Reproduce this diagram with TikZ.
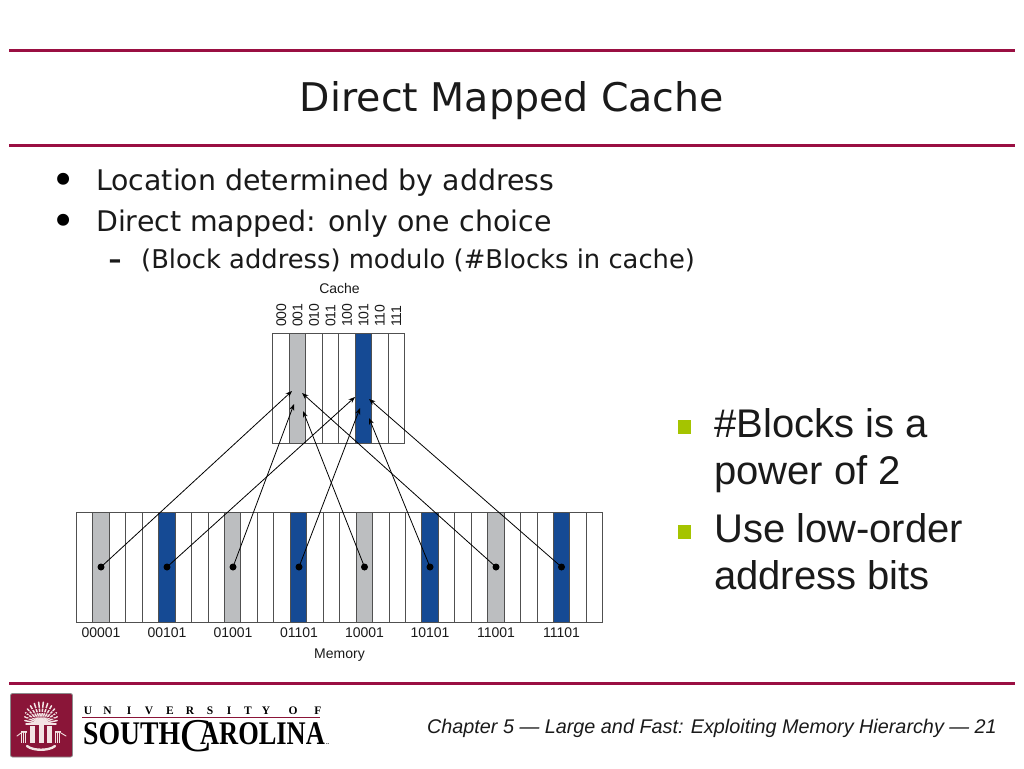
\documentclass[tikz,border=0pt]{standalone}
\usepackage{fontspec}
\setmainfont{Liberation Sans}
\newfontfamily\titlefont{DejaVu Sans}
\newfontfamily\logofont{Liberation Serif}
\usetikzlibrary{arrows.meta}
\definecolor{rulered}{HTML}{9A0F42}
\definecolor{logored}{HTML}{8A1538}
\definecolor{cellblue}{HTML}{154A94}
\definecolor{cellgray}{HTML}{BCBEC0}
\definecolor{cellline}{HTML}{505050}
\definecolor{bulletgreen}{HTML}{A5C400}
\definecolor{textdark}{HTML}{1A1A1A}
\definecolor{logowhite}{HTML}{F3E4E4}
\tikzset{
  hrule/.style={draw=rulered,line width=3pt},
  cell/.style={draw=cellline,line width=1pt,fill=white,minimum width=16.45pt,inner sep=0pt,outer sep=0pt},
  memcell/.style={cell,minimum height=110pt},
  cachecell/.style={cell,minimum height=110pt},
  hot/.style={fill=cellgray},
  hotblue/.style={fill=cellblue},
  dot/.style={circle,fill=black,inner sep=0pt,minimum size=7pt},
  conn/.style={draw=black,line width=.8pt,-{Stealth[length=6.5pt,width=5pt]},shorten <=-2pt},
  titletext/.style={font=\titlefont\fontsize{39.5}{40}\selectfont,text=textdark,anchor=base,inner sep=0pt},
  bodytext/.style={font=\titlefont\fontsize{28.4}{30}\selectfont,text=textdark,anchor=base west,inner sep=0pt},
  bullettext/.style={font=\titlefont\fontsize{41}{41}\selectfont,text=black,anchor=base,inner sep=0pt},
  subtext/.style={font=\titlefont\fontsize{25.8}{26}\selectfont,text=textdark,anchor=base west,inner sep=0pt},
  sidetext/.style={font=\fontsize{40}{40}\selectfont,text=textdark,anchor=base west,inner sep=0pt},
  small/.style={font=\fontsize{14}{14}\selectfont,text=textdark,inner sep=0pt},
  greenbox/.style={fill=bulletgreen,minimum size=13.5pt,inner sep=0pt},
  logoletter/.style={font=\logofont\bfseries\fontsize{11.5}{12}\selectfont,text=black,anchor=base,inner sep=0pt},
  logobig/.style={font=\logofont\bfseries\fontsize{33}{33}\selectfont,text=black,anchor=base west,inner sep=0pt},
}
\begin{document}
\begin{tikzpicture}[x=1pt,y=-1pt]
\useasboundingbox (0,0) rectangle (1024,768);
\fill[white] (0,0) rectangle (1024,768);
% rules
\coordinate (r1a) at (9,51); \coordinate (r1b) at (1015,51);
\coordinate (r2a) at (9,145); \coordinate (r2b) at (1015,145);
\coordinate (r3a) at (9,683); \coordinate (r3b) at (1015,683);
\draw[hrule] (r1a) -- (r1b);
\draw[hrule] (r2a) -- (r2b);
\draw[hrule] (r3a) -- (r3b);
% text
\node[titletext] (title) at (512,111) {Direct Mapped Cache};
\node[bullettext] (b1) at (64,194) {•};
\node[bodytext] (l1) at (96,190) {Location determined by address};
\node[bullettext] (b2) at (64,235) {•};
\node[bodytext] (l2) at (96,231) {Direct mapped: only one choice};
\node[subtext,font=\titlefont\bfseries\fontsize{25.8}{26}\selectfont] (b3) at (108.5,268) {–};
\node[subtext] (l3) at (141,268) {(Block address) modulo (\#Blocks in cache)};
% side bullets
\node[greenbox] (g1) at (684.7,427) {};
\node[greenbox] (g2) at (684.7,532) {};
\node[sidetext] (s1) at (714,437) {\#Blocks is a};
\node[sidetext] (s2) at (714,484) {power of 2};
\node[sidetext] (s3) at (714,542) {Use low-order};
\node[sidetext] (s4) at (714,589) {address bits};
% cache
\foreach \i/\lab in {0/000,1/001,2/010,3/011,4/100,5/101,6/110,7/111}{
  \pgfmathsetmacro\cx{281.2+16.45*\i}
  \ifnum\i=1
    \node[cachecell,hot] (c\i) at (\cx,388) {};
  \else\ifnum\i=5
    \node[cachecell,hotblue] (c\i) at (\cx,388) {};
  \else
    \node[cachecell] (c\i) at (\cx,388) {};
  \fi\fi
  \node[small,rotate=90,anchor=west] (cl\i) at (\cx,327) {\lab};
}
\node[small,anchor=base] (cachelabel) at (339.5,293) {Cache};
% memory
\foreach \i in {0,...,31}{
  \pgfmathsetmacro\mx{84.7+16.45*\i}
  \pgfmathtruncatemacro\remm{mod(\i,8)}
  \ifnum\remm=1
    \node[memcell,hot] (m\i) at (\mx,567) {};
  \else\ifnum\remm=5
    \node[memcell,hotblue] (m\i) at (\mx,567) {};
  \else
    \node[memcell] (m\i) at (\mx,567) {};
  \fi\fi
}
\node[small,anchor=base] (memorylabel) at (339.5,658) {Memory};
% dots, labels, targets
\foreach \n/\x/\lab/\tx/\ty in {
  1/101/00001/292/391,
  2/167/00101/355/397,
  3/233/01001/294/404,
  4/299/01101/360/408,
  5/364.5/10001/303/411,
  6/430/10101/369/418,
  7/496/11001/302/393,
  8/561.5/11101/369/399}{
  \node[dot] (d\n) at (\x,567) {};
  \node[small,anchor=base] (ml\n) at (\x,637) {\lab};
  \coordinate (t\n) at (\tx,\ty);
  \draw[conn] (d\n) -- (t\n);
}
% footer
\node[font=\fontsize{19.8}{20}\selectfont\itshape,text=textdark,anchor=base east,inner sep=0pt] (footer) at (997,733)
  {Chapter 5 — Large and Fast: Exploiting Memory Hierarchy — 21};
% logo
\fill[logored,rounded corners=2pt,draw=black!45,line width=.8pt] (10.5,693.5) rectangle (72.5,757);
\begin{scope}[logowhite,line cap=round]
  % fan of fronds
  \foreach \a in {-180,-168,...,0}{
    \draw[line width=1.5pt] (41,724) -- ++(\a:{15+7*abs(sin(\a))});
  }
  \foreach \r in {8,13,18}{
    \draw[logored,line width=.7pt] (26,{724-\r*.55}) .. controls (33,{724-\r}) and (49,{724-\r}) .. (56,{724-\r*.55});
  }
  \fill[logored] (27,724.5) rectangle (55,728);
  % trunk and pillars
  \fill (38.5,724) rectangle (43.5,743);
  \fill (30,726) rectangle (35,743);
  \fill (47,726) rectangle (52,743);
  \fill (21,731) rectangle (27,743);
  \fill (55,731) rectangle (61,743);
  \foreach \x in {22,24,26,56,58,60}{
    \draw[logored,line width=.5pt] (\x,733) -- (\x,743);
  }
  \draw[line width=.9pt] (17,736) -- (21,733) (61,733) -- (66,736);
  % banner
  \draw[line width=2.4pt] (27,746) .. controls (33,751) and (49,751) .. (55,746);
\end{scope}
\coordinate (lr1) at (82,717.5); \coordinate (lr2) at (320,717.5);
\draw[draw=logored,line width=1pt] (lr1) -- (lr2);
\foreach \ch/\x in {U/88,N/107.5,I/129,V/149,E/170,R/190,S/210,I/229,T/248,Y/266,O/293,F/318}{
  \node[logoletter] (u\ch\x) at (\x,714) {\ch};
}
\node[logobig,xscale=0.84] (south) at (83,744) {SOUTH};
\node[logobig,font=\logofont\fontsize{47}{47}\selectfont] (bigc) at (180,751) {C};
\node[logobig,xscale=0.80] (carolina) at (200,744) {AROLINA};
\node[font=\logofont\bfseries\fontsize{6}{6}\selectfont,text=black,anchor=base west,inner sep=0pt] (tm) at (326,744) {..};
\end{tikzpicture}
\end{document}
